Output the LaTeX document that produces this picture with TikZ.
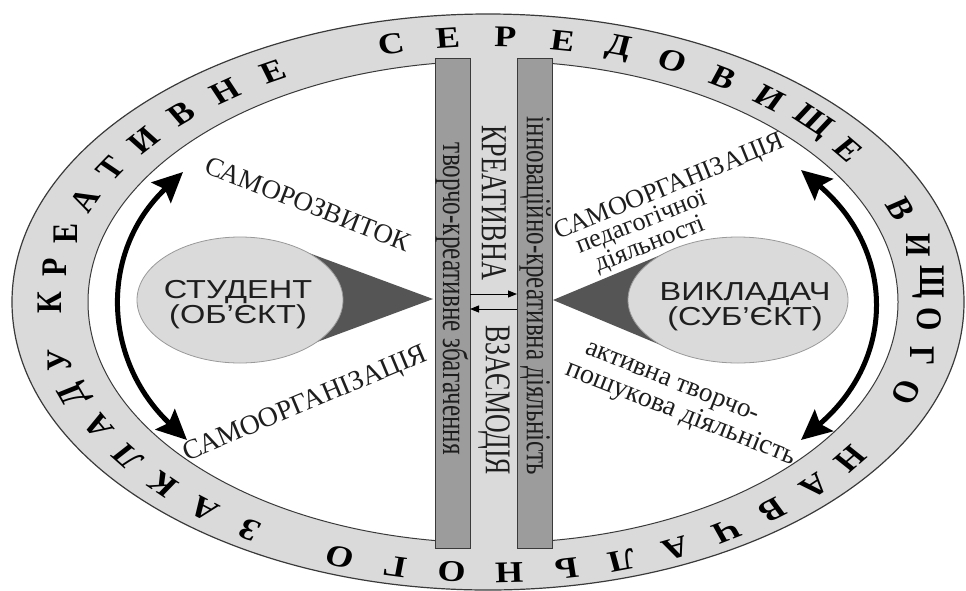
\documentclass[tikz,border=0pt]{standalone}
\usepackage{fontspec}
\setmainfont{Liberation Serif}
\setsansfont{Liberation Sans}
\usepackage{graphicx}
\usetikzlibrary{arrows.meta,shapes.geometric}
\definecolor{ringgray}{HTML}{DADADA}
\definecolor{bargray}{HTML}{9C9C9C}
\definecolor{darkcone}{HTML}{555555}
\definecolor{edge}{HTML}{3A3A3A}
\definecolor{txt}{HTML}{1E1E1E}
\begin{document}
\begin{tikzpicture}[x=1pt,y=-1pt,
  ringletter/.style={font=\fontsize{30}{30}\selectfont\bfseries, text=black, inner sep=0pt, xscale=1.2},
  vtext/.style={text=txt, inner sep=0pt, xscale=1.4, rotate=-90},
  lbltext/.style={text=txt, inner sep=0pt},
  persontext/.style={font=\sffamily\fontsize{26}{24}\selectfont, text=txt, align=center, inner sep=0pt, xscale=1.25},
  person/.style={ellipse, fill=ringgray, draw=gray!80, line width=0.8pt, inner sep=0pt, minimum width=206pt, minimum height=126pt},
  bar/.style={rectangle, fill=bargray, draw=edge, line width=0.8pt, inner sep=0pt, minimum width=35pt, minimum height=490pt},
  bigarrow/.style={line width=5pt, {Stealth[length=30pt,width=28pt,inset=5pt]}-{Stealth[length=30pt,width=28pt,inset=5pt]}},
  smallarrow/.style={line width=1pt, -{Triangle[length=9pt,width=7pt]}}
]
\useasboundingbox (0,0) rectangle (966,590);

% ring
\fill[ringgray, draw=edge, line width=1.2pt] (488,302) ellipse [x radius=476pt, y radius=288pt];
\fill[white, draw=edge, line width=1pt] (493,302) ellipse [x radius=405pt, y radius=241pt];

% ring letters
\foreach \t/\L [count=\i] in {179.5/К, 172/Р, 164.5/Е, 157/А, 149.5/Т, 142/И, 134.5/В, 127/Н, 119.5/Е,
  103/С, 95.5/Е, 88/Р, 80.5/Е, 73/Д, 65.5/О, 58/В, 50.5/И, 43/Щ, 35.5/Е,
  21/В, 13/И, 5/Щ, -3/О, -11/Г, -19/О,
  -35/Н, -42.5/А, -50/В, -57.5/Ч, -65/А, -72.5/Л, -80/Ь, -87.5/Н, -95/О, -102.5/Г, -110/О,
  -123/З, -130.5/А, -138/К, -145.5/Л, -153/А, -160.5/Д, -168/У} {
  \pgfmathsetmacro\rot{atan2(sin(\t)/268, cos(\t)*1.2/440)-90}
  \node[ringletter, rotate=\rot] (r\i) at ({490+440*cos(\t)}, {305-268*sin(\t)}) {\L};
}

% central band and bars
\fill[ringgray] (470,50) rectangle (517,555);
\node[bar] (lbar) at (452.5,303) {};
\node[bar] (rbar) at (534.5,303) {};

\node[vtext] (lbartxt) at (452,299) {\resizebox{312pt}{!}{творчо-креативне збагачення}};
\node[vtext] (rbartxt) at (535,296) {\resizebox{358pt}{!}{інноваційно-креативна діяльність}};
\node[vtext] (kreat) at (494,202.5) {\resizebox{155pt}{!}{КРЕАТИВНА}};
\node[vtext] (vzaem) at (494,400) {\resizebox{150pt}{!}{ВЗАЄМОДІЯ}};

% small arrows in the band
\coordinate (a1s) at (470,294);
\coordinate (a1e) at (517,294);
\coordinate (a2s) at (517,309);
\coordinate (a2e) at (470,309);
\draw[smallarrow] (a1s) -- (a1e);
\draw[smallarrow] (a2s) -- (a2e);

% cones
\fill[darkcone] (433,299) -- (290,246) -- (290,352) -- cycle;
\fill[darkcone] (553,300) -- (675,249) -- (675,351) -- cycle;

% persons
\node[person] (student) at (240,300) {};
\node[person, minimum width=220pt] (teacher) at (738,300) {};
\node[persontext] (studtxt) at (238,305) {СТУДЕНТ\\(ОБ’ЄКТ)};
\node[persontext] (teachtxt) at (745,307) {ВИКЛАДАЧ\\(СУБ’ЄКТ)};

% big curved arrows
\coordinate (lt) at (183,172);
\coordinate (lb) at (187,440);
\draw[bigarrow] (lt) .. controls (98.7,251.7) and (102.7,360.3) .. (lb);
\coordinate (rt) at (801,170);
\coordinate (rb) at (801,440);
\draw[bigarrow] (rt) .. controls (895.7,250.9) and (895.7,359.1) .. (rb);

% labels
\node[lbltext, rotate=-21.5] (samoroz) at (308,204) {\resizebox{218pt}{!}{САМОРОЗВИТОК}};
\node[lbltext, rotate=22.7] (samoorgL) at (305.7,404.7) {\resizebox{262pt}{!}{САМООРГАНІЗАЦІЯ}};
\node[lbltext, rotate=22.2] (samoorgR) at (670,188) {\resizebox{246pt}{!}{САМООРГАНІЗАЦІЯ}};
\node[lbltext, rotate=21.5] (pedag) at (641.5,223) {\resizebox{138pt}{!}{педагогічної}};
\node[lbltext, rotate=21.5] (diyal) at (650.5,245) {\resizebox{116pt}{!}{діяльності}};
\node[lbltext, rotate=-21.7] (aktyv) at (671.5,384) {\resizebox{185pt}{!}{активна творчо-}};
\node[lbltext, rotate=-21.5] (poshuk) at (681,414) {\resizebox{245pt}{!}{пошукова діяльність}};
\end{tikzpicture}
\end{document}
